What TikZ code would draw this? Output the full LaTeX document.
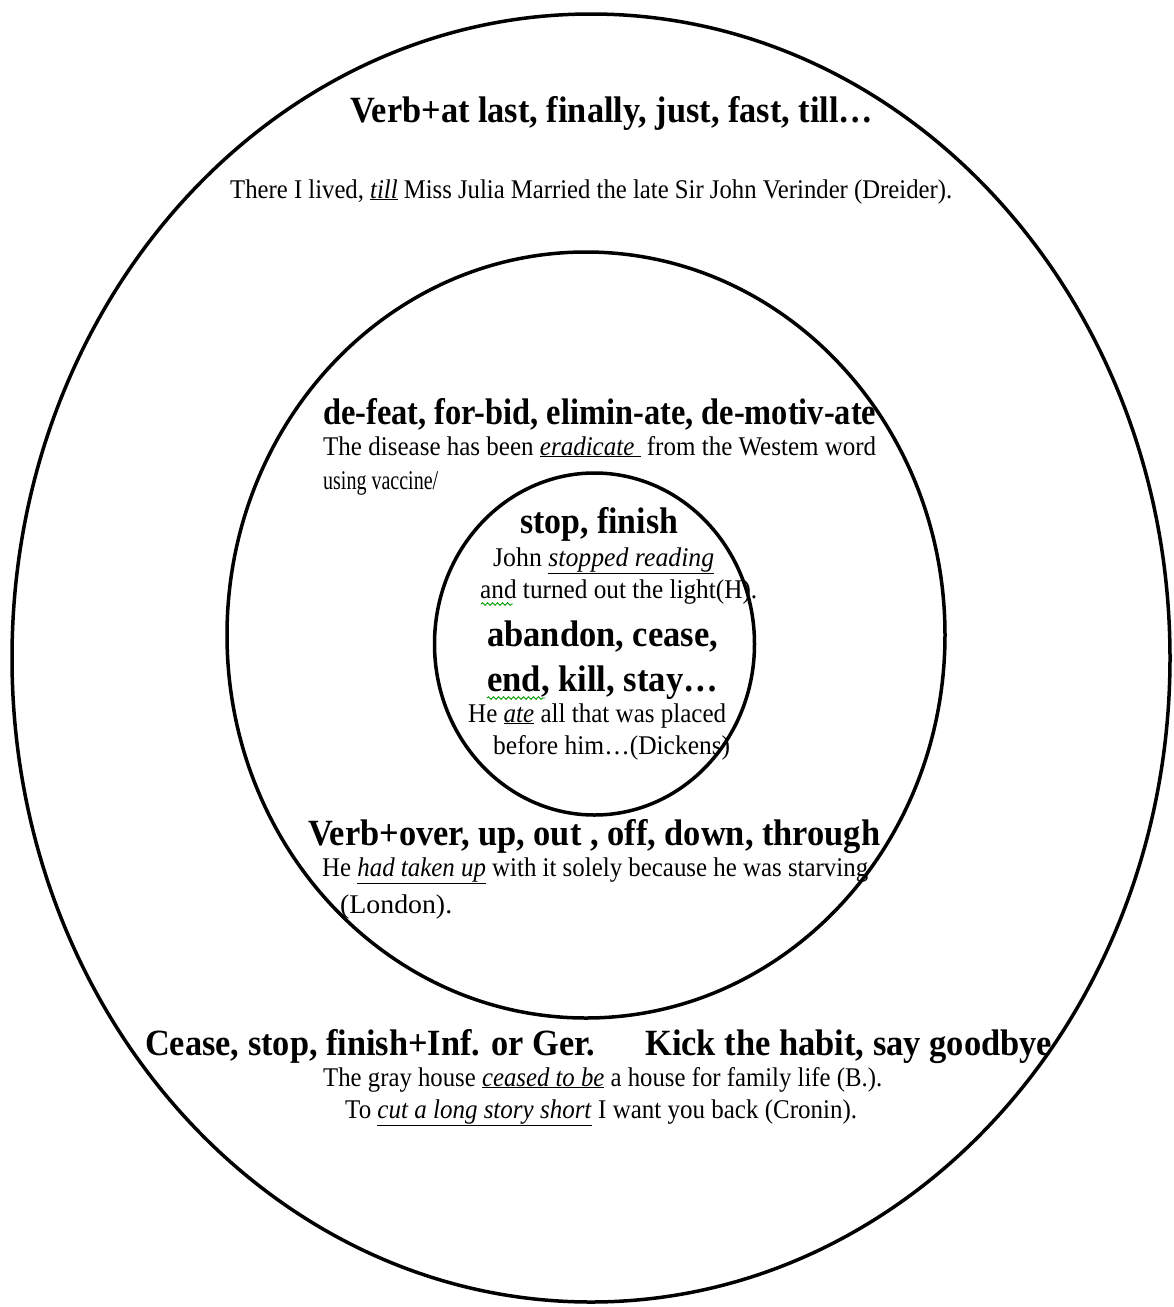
\documentclass[tikz,border=0pt]{standalone}
\usepackage{fontspec}
\setmainfont{Liberation Serif}
\usetikzlibrary{shapes.geometric,decorations.pathmorphing}
\newcommand\hd{\fontsize{37}{42}\selectfont\bfseries}
\newcommand\tx{\fontsize{27}{32}\selectfont}
\newcommand\fw[2]{\resizebox{#1pt}{\height}{#2}}
\newcommand\uli[1]{\underline{\textit{#1}}}
\begin{document}
\begin{tikzpicture}[x=1pt,y=-1pt,
  ring/.style={draw, ellipse, line width=3.5pt, inner sep=0pt},
  lbl/.style={anchor=base west, inner sep=0pt},
  squig/.style={draw=green!60!black, decorate, decoration={snake, amplitude=1.3pt, segment length=5pt}, line width=0.9pt}]
\useasboundingbox (0,0) rectangle (1174,1307);
\node[ring, minimum width=1158pt, minimum height=1288pt] (outer) at (591,658) {};
\node[ring, minimum width=718pt, minimum height=766pt] (middle) at (586,635) {};
\node[ring, minimum width=320pt, minimum height=342pt] (inner) at (594.5,644) {};
% outer ring
\node[lbl] (h1) at (350,122) {\fw{523}{\hd Verb+at last, finally, just, fast, till…}};
\node[lbl] (t1) at (230,198) {\fw{722}{\tx There I lived, \uli{till} Miss Julia Married the late Sir John Verinder (Dreider).}};
% middle ring
\node[lbl] (h2) at (323,424) {\fw{553}{\hd de-feat, for-bid, elimin-ate, de-motiv-ate}};
\node[lbl] (t2a) at (323,455) {\fw{553}{\tx The disease has been \underline{\textit{eradicate}\ } from the Westem word}};
\node[lbl] (t2b) at (323,489) {\fw{115}{\tx using vaccine/}};
% inner ring
\node[lbl] (h3) at (520,533) {\fw{158}{\hd stop, finish}};
\node[lbl] (t3a) at (493,566) {\fw{221}{\tx John \uli{stopped reading}}};
\node[lbl] (t3b) at (480,598) {\fw{277}{\tx and turned out the light(H).}};
\node[lbl] (h4a) at (487,646) {\fw{231}{\hd abandon, cease,}};
\node[lbl] (h4b) at (487,691) {\fw{231}{\hd end, kill, stay…}};
\node[lbl] (t4a) at (468,722) {\fw{258}{\tx He \uli{ate} all that was placed}};
\node[lbl] (t4b) at (493,754) {\fw{237}{\tx before him…(Dickens)}};
\draw[squig] (481,604) -- (513,604);
\draw[squig] (487,698) -- (545,698);
% middle ring, bottom
\node[lbl] (h5) at (308,845) {\fw{572}{\hd Verb+over, up, out , off, down, through}};
\node[lbl] (t5a) at (322,876) {\fw{546}{\tx He \uli{had taken up} with it solely because he was starving}};
\node[lbl] (t5b) at (340,913) {\fw{112}{\tx (London).}};
% outer ring, bottom
\node[lbl] (h6a) at (145,1055) {\fw{450}{\hd Cease, stop, finish+Inf. or Ger.}};
\node[lbl] (h6b) at (645,1055) {\fw{407}{\hd Kick the habit, say goodbye}};
\node[lbl] (t6a) at (323,1086) {\fw{559}{\tx The gray house \uli{ceased to be} a house for family life (B.).}};
\node[lbl] (t6b) at (345,1118) {\fw{512}{\tx To \uli{cut a long story short} I want you back (Cronin).}};
\end{tikzpicture}
\end{document}
